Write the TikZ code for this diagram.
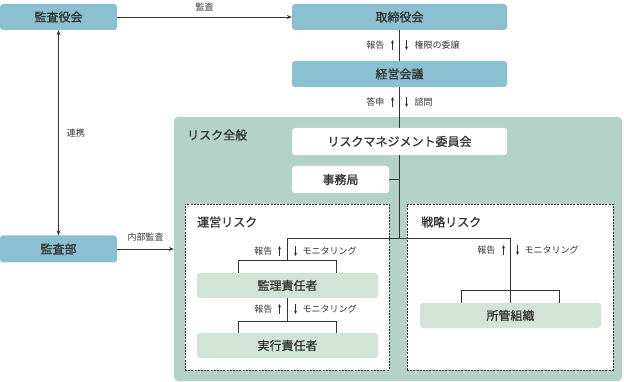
\documentclass[tikz,border=0pt]{standalone}
\usepackage{fontspec}
\setmainfont{Noto Sans CJK JP}
\newfontfamily\jpmedium[FakeBold=0.8]{Noto Sans CJK JP}
\usepackage{xcolor}
\definecolor{boardblue}{HTML}{8AC0D0}
\definecolor{riskgreen}{HTML}{B4D2C7}
\definecolor{unitgreen}{HTML}{D1E4D7}
\definecolor{darkgray}{HTML}{333333}
\usepackage{tikz}
\usetikzlibrary{arrows.meta,positioning}
\tikzset{
    org_top/.style={fill=boardblue, text=darkgray, font=\jpmedium\fontsize{12}{14}\selectfont, rounded corners=3pt, align=center, inner sep=0pt, minimum height=26pt},
    org_box/.style={fill=white, text=darkgray, font=\jpmedium\fontsize{12}{14}\selectfont, rounded corners=3pt, align=center, inner sep=0pt, minimum height=27pt},
    org_unit/.style={fill=unitgreen, text=darkgray, font=\jpmedium\fontsize{12}{14}\selectfont, rounded corners=3pt, align=center, inner sep=0pt, minimum width=181pt, minimum height=25pt},
    org_area/.style={draw=darkgray, fill=white, line width=0.8pt, dash pattern=on 2pt off 1.2pt, inner sep=0pt, minimum height=166pt},
    org_title/.style={text=darkgray, font=\jpmedium\fontsize{12}{14}\selectfont, anchor=west, inner sep=0pt},
    org_label/.style={text=darkgray, font=\fontsize{9}{11}\selectfont, inner sep=0pt},
    org_line/.style={draw=darkgray, line width=0.8pt},
    org_edge/.style={draw=darkgray, line width=0.8pt, -{Stealth[length=5pt,width=4pt]}},
    org_flow/.style={draw=darkgray, line width=0.7pt, -{Stealth[length=3.5pt,width=3pt]}}
}

\begin{document}
\begin{tikzpicture}[x=1pt, y=-1pt]
\useasboundingbox (0,0) rectangle (624,382);

\node[org_top, minimum width=117pt] (gov_audit) at (58.5,17) {監査役会};
\node[org_top, minimum width=215pt] (gov_board) at (399.5,17) {取締役会};
\node[org_top, minimum width=215pt] (gov_exec) at (399.5,74) {経営会議};
\node[org_top, minimum width=117pt, minimum height=27pt] (dept_audit) at (58.5,249) {監査部};

\node[fill=riskgreen, rounded corners=4pt, minimum width=448pt, minimum height=264pt] (risk_all) at (398,249) {};
\node[org_title] (title_all) at (187,135) {リスク全般};
\node[org_area, minimum width=204pt] (area_ops) at (287,287) {};
\node[org_area, minimum width=206pt] (area_strat) at (510,287) {};
\node[org_title] (title_ops) at (197,222) {運営リスク};
\node[org_title] (title_strat) at (421,222) {戦略リスク};

\node[org_box, minimum width=215pt] (risk_comm) at (399.5,141.5) {リスクマネジメント委員会};
\node[org_box, minimum width=97pt] (secretariat) at (340.5,179.5) {事務局};
\node[org_unit] (supervisor) at (287.5,285.5) {監理責任者};
\node[org_unit] (executor) at (287.5,345.5) {実行責任者};
\node[org_unit] (division) at (510.5,315.5) {所管組織};

\coordinate (hub) at (399.5,238);

\draw[org_edge] (gov_audit) -- node[org_label, above=6pt] (lbl_audit) {監査} (gov_board);
\draw[org_edge, {Stealth[length=5pt,width=4pt]}-{Stealth[length=5pt,width=4pt]}] (gov_audit) -- node[org_label, right=8pt] (lbl_link) {連携} (dept_audit);
\draw[org_edge] (dept_audit) -- node[org_label, above=7pt] (lbl_internal) {内部監査} (risk_all);

\draw[org_line] (gov_board) -- (gov_exec);
\draw[org_line] (gov_exec) -- (risk_comm);
\draw[org_line] (risk_comm) -- (hub);
\draw[org_line] (secretariat.east) -- (secretariat.east -| hub);
\draw[org_line] (supervisor.north |- hub) -- (division.north |- hub) -- (division.north);
\draw[org_line] (supervisor.north |- hub) -- ([yshift=12pt]supervisor.north);
\draw[org_line] ([xshift=-49pt]supervisor.north) -- ++(0,-12) -| ([xshift=49pt]supervisor.north);
\draw[org_line] (supervisor) -- ([yshift=11pt]executor.north);
\draw[org_line] ([xshift=-49pt]executor.north) -- ++(0,-11) -| ([xshift=49pt]executor.north);
\draw[org_line] ([xshift=-49pt]division.north) -- ++(0,-12) -| ([xshift=49pt]division.north);

\node[org_label, anchor=east] (rep_board) at (384.5,45) {報告};
\node[org_label, anchor=west] (dlg_board) at (414.5,45) {権限の委譲};
\draw[org_flow] ([xshift=8pt,yshift=-5pt]rep_board.east) -- ++(0,-10);
\draw[org_flow] ([xshift=-8pt,yshift=5pt]dlg_board.west) -- ++(0,10);

\node[org_label, anchor=east] (ans_exec) at (384.5,102) {答申};
\node[org_label, anchor=west] (ask_exec) at (414.5,102) {諮問};
\draw[org_flow] ([xshift=8pt,yshift=-5pt]ans_exec.east) -- ++(0,-10);
\draw[org_flow] ([xshift=-8pt,yshift=5pt]ask_exec.west) -- ++(0,10);

\node[org_label, anchor=east] (rep_ops) at (272.5,251) {報告};
\node[org_label, anchor=west] (mon_ops) at (302.5,251) {モニタリング};
\draw[org_flow] ([xshift=7pt,yshift=-5pt]rep_ops.east) -- ++(0,-10);
\draw[org_flow] ([xshift=-7pt,yshift=5pt]mon_ops.west) -- ++(0,10);

\node[org_label, anchor=east] (rep_exe) at (272.5,309) {報告};
\node[org_label, anchor=west] (mon_exe) at (302.5,309) {モニタリング};
\draw[org_flow] ([xshift=7pt,yshift=-5pt]rep_exe.east) -- ++(0,-10);
\draw[org_flow] ([xshift=-7pt,yshift=5pt]mon_exe.west) -- ++(0,10);

\node[org_label, anchor=east] (rep_strat) at (495.5,250) {報告};
\node[org_label, anchor=west] (mon_strat) at (524.5,250) {モニタリング};
\draw[org_flow] ([xshift=8pt,yshift=-5pt]rep_strat.east) -- ++(0,-10);
\draw[org_flow] ([xshift=-7pt,yshift=5pt]mon_strat.west) -- ++(0,10);
\end{tikzpicture}
\end{document}
